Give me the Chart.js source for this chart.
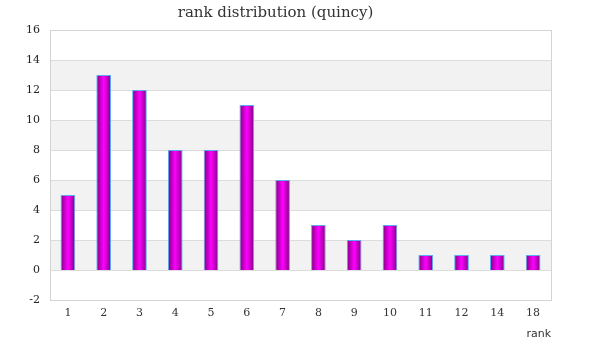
<!DOCTYPE html>
<html><head><meta charset="utf-8">
<script src="https://cdn.jsdelivr.net/npm/chart.js@4/dist/chart.umd.min.js"></script>
<style>html,body{margin:0;padding:0;background:#fff}#wrap{width:600px;height:360px}</style>
</head><body><div id="wrap"><canvas id="c" width="600" height="360"></canvas></div>
<script>
const categories = ['1','2','3','4','5','6','7','8','9','10','11','12','14','18'];
const counts = [5,13,12,8,8,11,6,3,2,3,1,1,1,1];
const yTicks = [-2,0,2,4,6,8,10,12,14,16];
const titleText = 'rank distribution (quincy)';
const xTitle = 'rank';

const serif = "'DejaVu Serif', 'Liberation Serif', serif";

const bgPlugin = {
  id: 'bands',
  beforeDatasetsDraw(chart) {
    const {ctx, chartArea: a, scales: {y}} = chart;
    ctx.save();
    ctx.fillStyle = '#f2f2f2';
    for (let v = 0; v < 16; v += 4) {
      const t = y.getPixelForValue(v + 2), b = y.getPixelForValue(v);
      ctx.fillRect(a.left, t, a.right - a.left, b - t);
    }
    ctx.strokeStyle = '#dcdcdc';
    ctx.lineWidth = 1;
    for (const v of yTicks) {
      const p = Math.round(y.getPixelForValue(v)) + 0.5;
      ctx.beginPath(); ctx.moveTo(a.left, p); ctx.lineTo(a.right, p); ctx.stroke();
    }
    ctx.strokeStyle = '#d4d4d4';
    ctx.strokeRect(Math.round(a.left)+0.5, Math.round(a.top)+0.5, Math.round(a.right-a.left), Math.round(a.bottom-a.top));
    ctx.restore();
    const meta = chart.getDatasetMeta(0);
    meta.data.forEach(bar => {
      const x0 = bar.x - bar.width / 2, x1 = bar.x + bar.width / 2;
      const g = ctx.createLinearGradient(x0, 0, x1, 0);
      g.addColorStop(0, '#800080');
      g.addColorStop(0.5, '#ff00ff');
      g.addColorStop(1, '#800080');
      bar.options.backgroundColor = g;
    });
  }
};

new Chart(document.getElementById('c'), {
  type: 'bar',
  data: { labels: categories, datasets: [{
    data: counts,
    backgroundColor: () => '#cc00cc',
    borderColor: '#5aaaf0',
    borderWidth: 1,
    barPercentage: 0.41,
    categoryPercentage: 1
  }]},
  options: {
    responsive: false,
    animation: false,
    events: [],
    layout: { padding: { left: 0, right: 49, top: 0, bottom: 0 } },
    plugins: {
      legend: { display: false },
      tooltip: { enabled: false },
      title: { display: true, text: titleText, color: '#333',
        font: { family: serif, size: 15, weight: 'normal' }, padding: { top: 4, bottom: 8 } }
    },
    scales: {
      x: {
        afterFit(s) { s.height = 60; },
        grid: { display: false, drawTicks: false },
        border: { display: false },
        ticks: { color: '#333', font: { family: serif, size: 11 }, padding: 7, maxRotation: 0 },
        title: { display: true, text: xTitle, align: 'end', color: '#333',
          font: { family: "'DejaVu Sans', sans-serif", size: 11 }, padding: { top: 0, bottom: 19 } }
      },
      y: {
        min: -2, max: 16,
        afterFit(s) { s.width = 50; },
        grid: { display: false, drawTicks: false },
        border: { display: false },
        ticks: { stepSize: 2, color: '#222', font: { family: serif, size: 11 }, padding: 10 }
      }
    }
  },
  plugins: [bgPlugin]
});
</script></body></html>
